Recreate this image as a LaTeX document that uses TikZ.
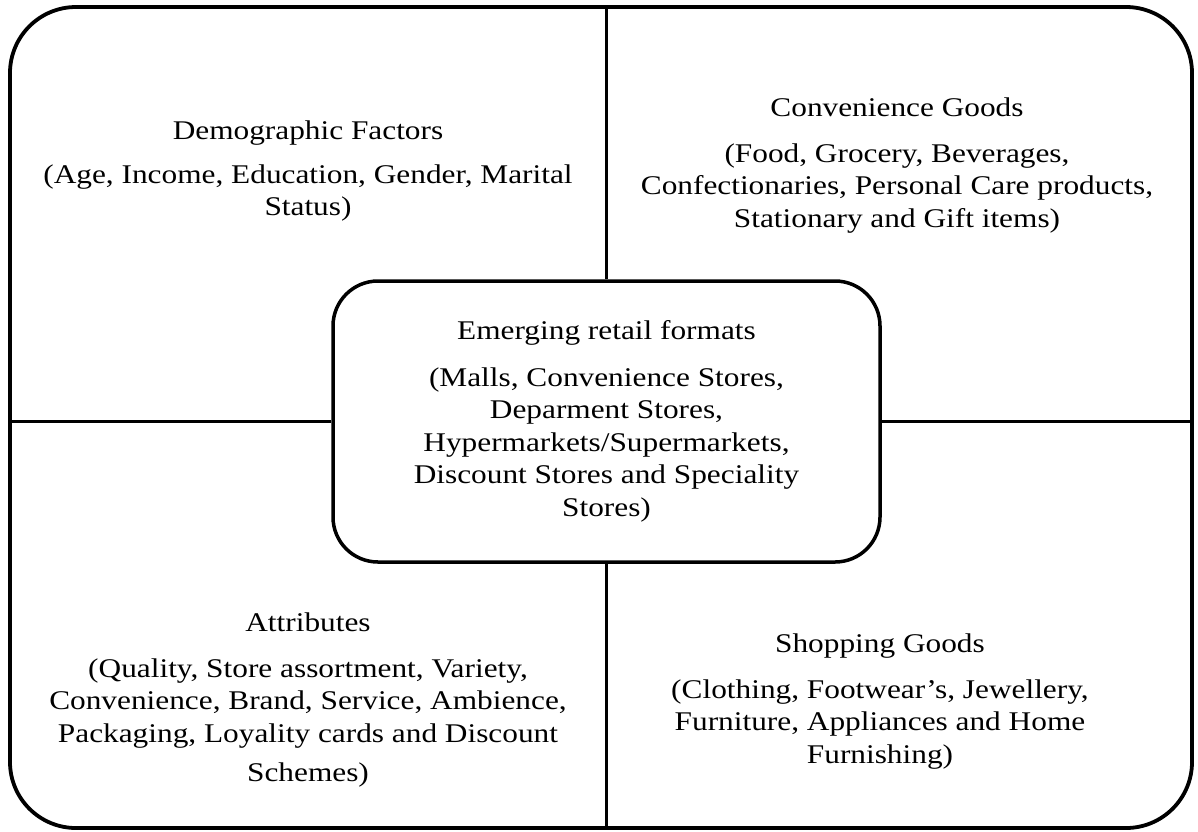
\documentclass[tikz,border=0pt]{standalone}
\usepackage{fontspec}
\setmainfont[FakeStretch=1.16]{Liberation Serif}
\usepackage{tikz}

\begin{document}
\begin{tikzpicture}[x=1pt,y=-1pt,
    quad/.style={align=center,inner sep=0pt,anchor=north,
      font=\fontsize{27}{32.5}\selectfont},
    hub/.style={draw,line width=3.5pt,rounded corners=45pt,align=center,
      minimum width=547pt,minimum height=281pt,font=\fontsize{27}{32.5}\selectfont}]
  \useasboundingbox (0,0) rectangle (1198,831);

  % Outer frame
  \node[draw,line width=3.8pt,rounded corners=66pt,minimum width=1182pt,
    minimum height=821pt] (frame) at (601,417.5) {};

  % Central box
  \node[hub] (hub) at (606.5,421.5)
    {Emerging retail formats\\[14pt]
     (Malls, Convenience Stores,\\ Deparment Stores,\\
     Hypermarkets/Supermarkets,\\ Discount Stores and Speciality\\ Stores)};

  % Dividers
  \draw[line width=3.5pt] (hub.north) -- (hub.north |- frame.north);
  \draw[line width=3.5pt] (hub.south) -- (hub.south |- frame.south);
  \draw[line width=3.5pt] (hub.west) -- (hub.west -| frame.west);
  \draw[line width=3.5pt] (hub.east) -- (hub.east -| frame.east);

  % Quadrant texts
  \node[quad] (demo) at (308,121)
    {Demographic Factors\\[11pt] (Age, Income, Education, Gender, Marital\\ Status)};
  \node[quad] (conv) at (897,98)
    {Convenience Goods\\[13pt] (Food, Grocery, Beverages,\\
     Confectionaries, Personal Care products,\\ Stationary and Gift items)};
  \node[quad] (attr) at (308,613)
    {Attributes\\[13pt] (Quality, Store assortment, Variety,\\
     Convenience, Brand, Service, Ambience,\\
     Packaging, Loyality cards and Discount\\[7pt] Schemes)};
  \node[quad] (shop) at (880,634)
    {Shopping Goods\\[13pt] (Clothing, Footwear's, Jewellery,\\
     Furniture, Appliances and Home\\ Furnishing)};
\end{tikzpicture}
\end{document}
